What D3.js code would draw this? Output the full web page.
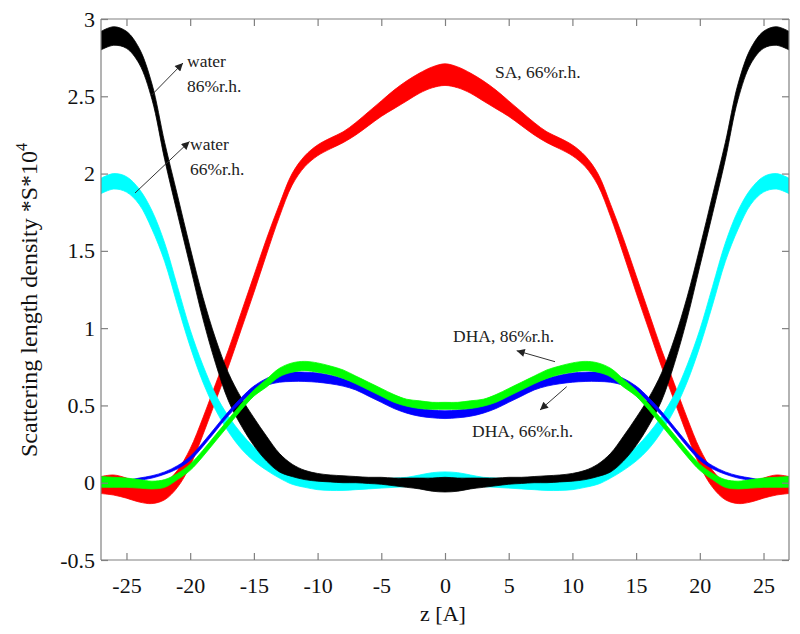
<!DOCTYPE html>
<html>
<head>
<meta charset="utf-8">
<script src="https://cdn.jsdelivr.net/npm/d3@7"></script>
<style>
  html, body { margin: 0; padding: 0; background: #fff; }
  svg { display: block; }
  text { font-family: "Liberation Serif", "Times New Roman", serif; }
</style>
</head>
<body>
<svg id="chart" width="800" height="634"></svg>
<script>
// ---------------- data ----------------
const z = [-27,-26,-25,-24,-23,-22,-21,-20,-19,-18,-17,-16,-15,-14,-13,-12,-11,-10,-9,-8,-7,-6,-5,-4,-3,-2,-1,0,
           1,2,3,4,5,6,7,8,9,10,11,12,13,14,15,16,17,18,19,20,21,22,23,24,25,26,27];

const xTicks = [-25,-20,-15,-10,-5,0,5,10,15,20,25];
const yTicks = [-0.5,0,0.5,1,1.5,2,2.5,3];
const yTickLabels = ["-0.5","0","0.5","1","1.5","2","2.5","3"];

// water 86% r.h. (black)
const blackUpper = [2.92,2.95,2.92,2.81,2.58,2.20,1.86,1.52,1.20,0.93,0.71,0.55,0.42,0.30,0.19,0.12,0.08,0.06,0.05,0.045,0.04,0.035,0.035,0.03,0.03,0.03,0.03,0.035,
                    0.03,0.03,0.03,0.03,0.035,0.035,0.04,0.045,0.05,0.06,0.08,0.12,0.19,0.30,0.42,0.55,0.71,0.93,1.20,1.52,1.86,2.20,2.58,2.81,2.92,2.95,2.92];
const blackLower = [2.80,2.83,2.81,2.71,2.48,2.09,1.74,1.40,1.06,0.77,0.53,0.37,0.24,0.14,0.07,0.04,0.02,0.01,0.005,0.0,0.0,-0.005,-0.01,-0.02,-0.03,-0.04,-0.055,-0.06,
                    -0.055,-0.04,-0.03,-0.02,-0.01,-0.005,0.0,0.0,0.005,0.01,0.02,0.04,0.07,0.14,0.24,0.37,0.53,0.77,1.06,1.40,1.74,2.09,2.48,2.71,2.81,2.83,2.80];

// water 66% r.h. (cyan)
const cyanUpper = [1.97,2.00,1.98,1.90,1.76,1.55,1.27,0.99,0.76,0.57,0.43,0.32,0.23,0.16,0.10,0.06,0.03,0.02,0.01,0.01,0.015,0.02,0.025,0.03,0.035,0.05,0.065,0.07,
                   0.065,0.05,0.035,0.03,0.025,0.02,0.015,0.01,0.01,0.02,0.03,0.06,0.10,0.16,0.23,0.32,0.43,0.57,0.76,0.99,1.27,1.55,1.76,1.90,1.98,2.00,1.97];
const cyanLower = [1.87,1.90,1.88,1.80,1.64,1.43,1.15,0.88,0.65,0.47,0.33,0.22,0.14,0.08,0.03,-0.01,-0.03,-0.045,-0.05,-0.05,-0.045,-0.04,-0.035,-0.03,-0.025,-0.02,-0.015,-0.01,
                   -0.015,-0.02,-0.025,-0.03,-0.035,-0.04,-0.045,-0.05,-0.05,-0.045,-0.03,-0.01,0.03,0.08,0.14,0.22,0.33,0.47,0.65,0.88,1.15,1.43,1.64,1.80,1.88,1.90,1.87];

// SA 66% r.h. (red)
const redUpper = [0.04,0.05,0.03,0.0,-0.02,0.0,0.08,0.22,0.42,0.64,0.86,1.10,1.34,1.58,1.80,2.00,2.115,2.185,2.23,2.27,2.33,2.40,2.47,2.54,2.60,2.65,2.69,2.71,
                  2.69,2.65,2.60,2.54,2.47,2.40,2.33,2.27,2.23,2.185,2.115,2.00,1.80,1.58,1.34,1.10,0.86,0.64,0.42,0.22,0.08,0.0,-0.02,0.0,0.03,0.05,0.04];
const redLower = [-0.07,-0.08,-0.10,-0.125,-0.135,-0.11,-0.03,0.11,0.31,0.53,0.75,0.99,1.23,1.48,1.72,1.925,2.045,2.115,2.16,2.20,2.25,2.31,2.37,2.42,2.47,2.52,2.555,2.57,
                  2.555,2.52,2.47,2.42,2.37,2.31,2.25,2.20,2.16,2.115,2.045,1.925,1.72,1.48,1.23,0.99,0.75,0.53,0.31,0.11,-0.03,-0.11,-0.135,-0.125,-0.10,-0.08,-0.07];

// DHA 86% r.h. (green)
const greenUpper = [0.04,0.035,0.03,0.02,0.01,0.02,0.06,0.12,0.21,0.31,0.41,0.51,0.60,0.67,0.74,0.775,0.785,0.775,0.755,0.73,0.69,0.65,0.61,0.57,0.54,0.53,0.52,0.52,
                    0.52,0.53,0.54,0.57,0.61,0.65,0.69,0.73,0.755,0.775,0.785,0.775,0.74,0.67,0.60,0.51,0.41,0.31,0.21,0.12,0.06,0.02,0.01,0.02,0.03,0.035,0.04];
const greenLower = [-0.03,-0.03,-0.03,-0.035,-0.04,-0.03,0.02,0.08,0.17,0.27,0.37,0.47,0.56,0.62,0.685,0.715,0.725,0.715,0.70,0.675,0.64,0.60,0.56,0.52,0.495,0.48,0.475,0.475,
                    0.475,0.48,0.495,0.52,0.56,0.60,0.64,0.675,0.70,0.715,0.725,0.715,0.685,0.62,0.56,0.47,0.37,0.27,0.17,0.08,0.02,-0.03,-0.04,-0.035,-0.03,-0.03,-0.03];

// DHA 66% r.h. (blue)
const blueUpper = [0.01,0.01,0.015,0.03,0.045,0.07,0.11,0.17,0.26,0.36,0.46,0.55,0.625,0.675,0.705,0.715,0.715,0.71,0.695,0.675,0.645,0.61,0.57,0.53,0.50,0.48,0.47,0.465,
                   0.47,0.48,0.50,0.53,0.57,0.61,0.645,0.675,0.695,0.71,0.715,0.715,0.705,0.675,0.625,0.55,0.46,0.36,0.26,0.17,0.11,0.07,0.045,0.03,0.015,0.01,0.01];
const blueLower = [-0.01,-0.01,0.0,0.015,0.03,0.055,0.09,0.145,0.235,0.335,0.435,0.52,0.59,0.63,0.65,0.655,0.655,0.65,0.64,0.625,0.60,0.56,0.52,0.48,0.45,0.43,0.42,0.415,
                   0.42,0.43,0.45,0.48,0.52,0.56,0.60,0.625,0.64,0.65,0.655,0.655,0.65,0.63,0.59,0.52,0.435,0.335,0.235,0.145,0.09,0.055,0.03,0.015,0.0,-0.01,-0.01];

const seriesNames = ["SA, 66%r.h.","water 66%r.h.","water 86%r.h.","DHA, 66%r.h.","DHA, 86%r.h."];
const seriesColors = ["#ff0000","#00ffff","#000000","#0000ff","#00ff00"];
const seriesUpper = [redUpper, cyanUpper, blackUpper, blueUpper, greenUpper];
const seriesLower = [redLower, cyanLower, blackLower, blueLower, greenLower];

// ---------------- drawing ----------------
const svg = d3.select("#chart");
const L = 101, R = 789, T = 19, B = 560;
const x = d3.scaleLinear().domain([-27, 27]).range([L, R]);
const y = d3.scaleLinear().domain([-0.5, 3]).range([B, T]);

const defs = svg.append("defs");
defs.append("clipPath").attr("id", "plotclip")
  .append("rect").attr("x", L).attr("y", T).attr("width", R - L).attr("height", B - T);

const plot = svg.append("g").attr("clip-path", "url(#plotclip)");

seriesNames.forEach((name, s) => {
  const up = seriesUpper[s], lo = seriesLower[s];
  const data = z.map((zv, i) => ({ z: zv, lo: lo[i], up: up[i] }));
  const area = d3.area()
    .x(d => x(d.z)).y0(d => y(d.lo)).y1(d => y(d.up))
    .curve(d3.curveCatmullRom.alpha(0.5));
  plot.append("path")
    .datum(data)
    .attr("d", area)
    .attr("fill", seriesColors[s])
    .attr("stroke", seriesColors[s])
    .attr("stroke-width", 0.8)
    .attr("stroke-linejoin", "round");
});

// axes (MATLAB style box with inward ticks)
const axisColor = "#808080";
const gx = svg.append("g").attr("transform", `translate(0,${B})`)
  .call(d3.axisBottom(x).tickValues(xTicks).tickSize(-7).tickPadding(17));
const gxTop = svg.append("g").attr("transform", `translate(0,${T})`)
  .call(d3.axisTop(x).tickValues(xTicks).tickSize(-7).tickFormat(""));
const gy = svg.append("g").attr("transform", `translate(${L},0)`)
  .call(d3.axisLeft(y).tickValues(yTicks).tickSize(-7).tickPadding(6).tickFormat((d, i) => yTickLabels[i]));
const gyR = svg.append("g").attr("transform", `translate(${R},0)`)
  .call(d3.axisRight(y).tickValues(yTicks).tickSize(-7).tickFormat(""));

[gx, gxTop, gy, gyR].forEach(g => {
  g.select(".domain").attr("stroke", axisColor).attr("stroke-width", 1.2);
  g.selectAll(".tick line").attr("stroke", axisColor).attr("stroke-width", 1.2);
  g.selectAll(".tick text").attr("fill", "#111").attr("font-size", 22)
    .attr("font-family", "Liberation Serif, Times New Roman, serif");
});
gx.selectAll(".tick text").text(d => d < 0 ? "-" + Math.abs(d) : String(d));
gxTop.select(".domain").attr("d", `M${L},0H${R}`);
gyR.select(".domain").attr("d", `M0,${T}V${B}`);
gx.select(".domain").attr("d", `M${L},0H${R}`);
gy.select(".domain").attr("d", `M0,${T}V${B}`);

// axis titles
svg.append("text")
  .attr("x", (L + R) / 2 - 2).attr("y", 621)
  .attr("text-anchor", "middle").attr("font-size", 22).attr("fill", "#111")
  .text("z [A]");

const yl = svg.append("text")
  .attr("transform", `translate(37,300) rotate(-90)`)
  .attr("text-anchor", "middle").attr("font-size", 24).attr("fill", "#111");
yl.append("tspan").text("Scattering length density *S*10");
yl.append("tspan").attr("font-size", 16).attr("dy", -10).text("4");

// annotations
defs.append("marker").attr("id", "ah")
  .attr("viewBox", "0 0 10 10").attr("refX", 10).attr("refY", 5)
  .attr("markerWidth", 10).attr("markerHeight", 8).attr("markerUnits", "userSpaceOnUse")
  .attr("orient", "auto")
  .append("path").attr("d", "M0,0L10,5L0,10Z").attr("fill", "#222");

const arrows = [
  [151.7, 95, 183, 63],
  [135, 193, 189.5, 141.5],
  [555, 361.7, 516.7, 350.7],
  [566.7, 386.7, 540, 410]
];
arrows.forEach(a => {
  svg.append("line").attr("x1", a[0]).attr("y1", a[1]).attr("x2", a[2]).attr("y2", a[3])
    .attr("stroke", "#333").attr("stroke-width", 1).attr("marker-end", "url(#ah)");
});

const labels = [
  ["water", 187, 67], ["86%r.h.", 187, 92],
  ["water", 190, 150], ["66%r.h.", 190, 175],
  ["SA, 66%r.h.", 495, 78],
  ["DHA, 86%r.h.", 453, 342],
  ["DHA, 66%r.h.", 472, 437]
];
labels.forEach(l => {
  svg.append("text").attr("x", l[1]).attr("y", l[2])
    .attr("font-size", 17.5).attr("fill", "#222").text(l[0]);
});
</script>
</body>
</html>
